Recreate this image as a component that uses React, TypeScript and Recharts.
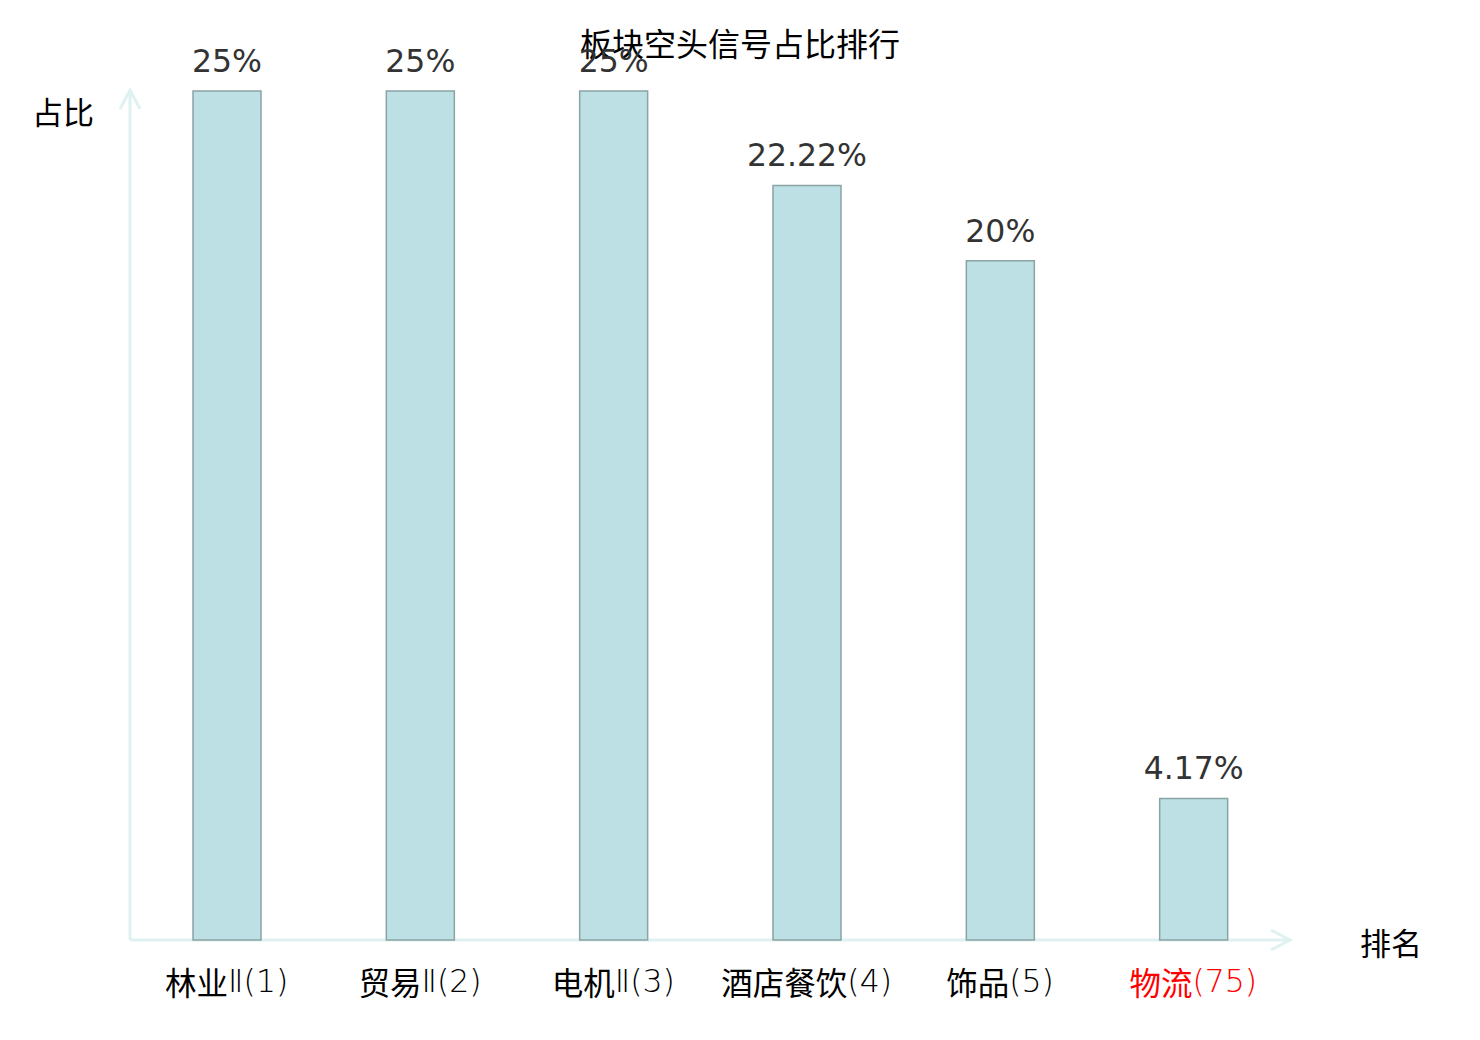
import React from 'react';
import { BarChart, Bar, XAxis, YAxis, LabelList, Customized } from 'recharts';

const categories = ['林业Ⅱ(1)', '贸易Ⅱ(2)', '电机Ⅱ(3)', '酒店餐饮(4)', '饰品(5)', '物流(75)'];
const values = [25, 25, 25, 22.22, 20, 4.17];
const valueLabels = ['25%', '25%', '25%', '22.22%', '20%', '4.17%'];
const highlighted = [false, false, false, false, false, true];

const data = categories.map((name, i) => ({
  name,
  value: values[i],
  label: valueLabels[i],
  hl: highlighted[i],
}));

const W = 1480;
const H = 1040;
const XAXIS_H = 60;
const M = { top: 91, left: 130, right: 190, bottom: 100 - XAXIS_H };
const AXIS_COLOR = '#dff1f0';
const CJK = '"Noto Sans CJK SC", "Noto Sans", sans-serif';
const LATIN = '"DejaVu Sans", sans-serif';

const splitRuns = (s: string) => s.match(/[\u4e00-\u9fff]+|[^\u4e00-\u9fff]+/g) || [];

const Tick = (props: any) => {
  const { x, payload, index } = props;
  const hl = highlighted[index];
  const runs = splitRuns(String(payload.value));
  return (
    <text
      x={x}
      y={H - 100}
      dy={41}
      textAnchor="middle"
      dominantBaseline="central"
      fontSize={31.5}
      fill={hl ? '#ff0000' : '#000000'}
    >
      {runs.map((r, i) =>
        /[\u4e00-\u9fff]/.test(r) ? (
          <tspan key={i} fontFamily={CJK} fontWeight={400}>
            {r}
          </tspan>
        ) : (
          <tspan key={i} fontFamily={LATIN} fontWeight={200}>
            {r}
          </tspan>
        )
      )}
    </text>
  );
};

const Axes = () => {
  const x0 = M.left;
  const y0 = H - 100;
  const x1 = W - M.right;
  const yTop = M.top - 1;
  return (
    <g>
      <line x1={x0} y1={y0} x2={x0} y2={yTop} stroke={AXIS_COLOR} strokeWidth={3} />
      <polyline
        points={`${x0 - 10},${yTop + 19} ${x0},${yTop} ${x0 + 10},${yTop + 19}`}
        fill="none"
        stroke={AXIS_COLOR}
        strokeWidth={3}
      />
      <line x1={x0} y1={y0} x2={x1} y2={y0} stroke={AXIS_COLOR} strokeWidth={3} />
      <polyline
        points={`${x1 - 19},${y0 - 10} ${x1},${y0} ${x1 - 19},${y0 + 10}`}
        fill="none"
        stroke={AXIS_COLOR}
        strokeWidth={3}
      />
      <text x={63} y={110} textAnchor="middle" dominantBaseline="central" fontFamily={CJK} fontSize={31} fill="#000">
        占比
      </text>
      <text x={1391} y={941} textAnchor="middle" dominantBaseline="central" fontFamily={CJK} fontSize={31} fill="#000">
        排名
      </text>
    </g>
  );
};

export default function App() {
  return (
    <div style={{ position: 'absolute', left: 0, top: 0, width: W, height: H, background: '#fff' }}>
      <BarChart width={W} height={H} data={data} margin={M}>
        <Customized component={Axes} />
        <XAxis
          dataKey="name"
          axisLine={false}
          tickLine={false}
          tick={<Tick />}
          interval={0}
          height={XAXIS_H}
        />
        <YAxis hide domain={[0, 25]} />
        <Bar
          dataKey="value"
          barSize={68}
          fill="#bce0e3"
          stroke="#8aa3a5"
          strokeWidth={1.5}
          isAnimationActive={false}
        >
          <LabelList
            dataKey="label"
            position="top"
            offset={19}
            fontFamily={LATIN}
            fontSize={31.5}
            fill="#333333"
          />
        </Bar>
        <text x={740} y={42} textAnchor="middle" dominantBaseline="central" fontFamily={CJK} fontSize={32} fill="#000">
          板块空头信号占比排行
        </text>
      </BarChart>
    </div>
  );
}
